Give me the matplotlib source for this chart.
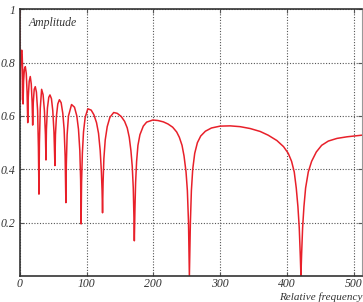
import numpy as np
import matplotlib.pyplot as plt

# curve: relative frequency vs amplitude
freq = [0, 0.4, 1.0, 1.6, 2.4, 3, 3.7, 4.4,
        5, 5.8, 7, 8.4, 9.8, 11,
        12, 12.8, 14.2, 15.8, 17.3, 18.6,
        19.4, 20.3, 21.7, 23.3, 25, 26.8, 28,
        28.8, 29.5, 30.8, 32.8, 35, 37, 38.5,
        39.3, 40, 41.5, 43.5, 45.3, 47.5, 49.5, 51.3,
        52.7, 53.5, 55, 57, 59.4, 62, 64.5, 66.5, 68,
        69.1, 69.8, 71, 73, 77.6, 82, 85.5, 88, 90, 91.2,
        91.9, 92.6, 93.8, 95.5, 98, 102, 107, 111, 115, 118, 120.5, 122.3, 123.3,
        124, 124.8, 126, 128, 131, 135, 140.7, 146, 152, 157, 161, 164, 166.5,
        168.5, 170, 171,
        171.6, 172.5, 173.5, 175, 177, 180, 185, 190, 199.4, 207, 215, 222, 229,
        235, 239, 243, 246, 249, 251, 252.7,
        254, 255.5, 257, 259, 262, 266, 271, 278, 287, 300, 315, 330, 345, 360,
        372, 385, 395, 402, 407, 411, 414, 416.5, 418.5, 420,
        421, 422, 423.5, 425.5, 428, 432, 437, 444, 452, 462, 475, 490, 512]
amp = [1.0, 0.85, 0.66, 0.78, 0.835, 0.847, 0.83, 0.77,
       0.645, 0.73, 0.775, 0.785, 0.76, 0.69,
       0.575, 0.67, 0.73, 0.748, 0.72, 0.65,
       0.566, 0.65, 0.70, 0.71, 0.69, 0.62, 0.48,
       0.307, 0.5, 0.63, 0.70, 0.68, 0.62, 0.53,
       0.435, 0.55, 0.63, 0.67, 0.679, 0.665, 0.62, 0.54,
       0.414, 0.53, 0.60, 0.645, 0.661, 0.65, 0.61, 0.55, 0.45,
       0.275, 0.42, 0.53, 0.60, 0.643, 0.633, 0.60, 0.55, 0.47, 0.36,
       0.195, 0.35, 0.46, 0.54, 0.595, 0.627, 0.622, 0.605, 0.575, 0.535, 0.47, 0.39, 0.32,
       0.237, 0.35, 0.44, 0.51, 0.56, 0.595, 0.613, 0.61, 0.598, 0.58, 0.555, 0.52, 0.47,
       0.41, 0.33, 0.22,
       0.132, 0.25, 0.35, 0.43, 0.49, 0.53, 0.562, 0.577, 0.585, 0.583, 0.578, 0.57, 0.558,
       0.54, 0.52, 0.49, 0.45, 0.39, 0.32, 0.2,
       0.0, 0.2, 0.32, 0.40, 0.46, 0.50, 0.525, 0.543, 0.555, 0.562, 0.563, 0.56, 0.553, 0.542,
       0.528, 0.508, 0.485, 0.46, 0.43, 0.39, 0.33, 0.26, 0.18, 0.08,
       0.0, 0.08, 0.18, 0.26, 0.33, 0.39, 0.43, 0.465, 0.49, 0.506, 0.516, 0.522, 0.528]

xticks = [0, 100, 200, 300, 400, 500]
yticks = [0.2, 0.4, 0.6, 0.8, 1]
ytick_labels = ['0.2', '0.4', '0.6', '0.8', '1']

font = {'family': 'Liberation Serif', 'style': 'italic', 'size': 8.5, 'color': '#333333'}

fig = plt.figure(figsize=(3.63, 3.02), dpi=100)
ax = fig.add_axes([0.0543, 0.0861, 0.944, 0.883])

ax.plot(freq, amp, color='#e8202a', lw=1.1)

ax.set_xlim(0, 513)
ax.set_ylim(0, 1)
ax.set_xticks(xticks)
ax.set_yticks(yticks)
ax.set_xticklabels([str(t) for t in xticks], fontdict=font)
ax.set_yticklabels(ytick_labels, fontdict=font)
ax.tick_params(direction='in', length=3, width=0.8, color='#555555',
               top=True, right=True)
ax.tick_params(axis='y', pad=3)
ax.tick_params(axis='x', pad=1.5)
ax.grid(True, linestyle=(0, (1, 1.5)), color='#555555', lw=0.8)

for s in ['left', 'bottom', 'top']:
    ax.spines[s].set_color('#333333')
    ax.spines[s].set_linewidth(1.2)
ax.spines['right'].set_color('#999999')
ax.spines['right'].set_linewidth(0.8)

ax.text(0.027, 0.97, 'Amplitude', transform=ax.transAxes, ha='left', va='top', **font)
fig.text(0.998, 0.0, 'Relative frequency', ha='right', va='bottom',
         family='Liberation Serif', style='italic', size=8, color='#333333')

fig.savefig('out.png', dpi=100)
